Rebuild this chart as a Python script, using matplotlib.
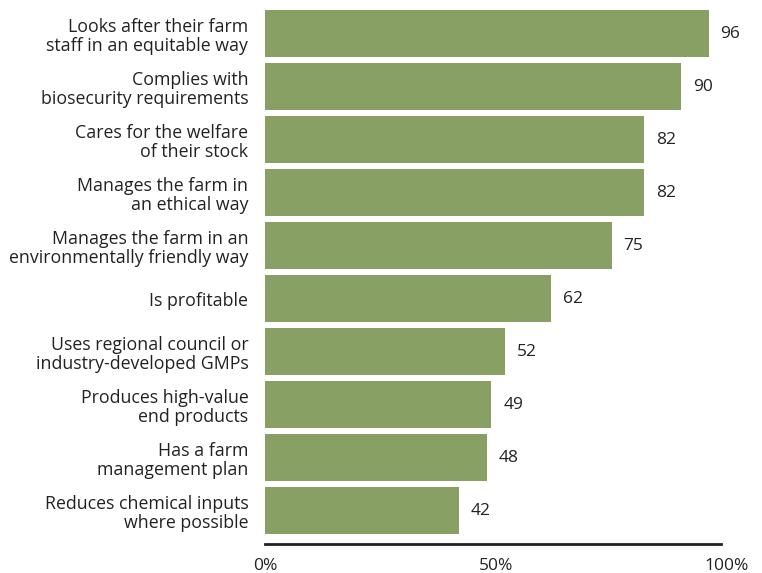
import matplotlib.pyplot as plt

labels = [
    "Looks after their farm\nstaff in an equitable way",
    "Complies with\nbiosecurity requirements",
    "Cares for the welfare\nof their stock",
    "Manages the farm in\nan ethical way",
    "Manages the farm in an\nenvironmentally friendly way",
    "Is profitable",
    "Uses regional council or\nindustry-developed GMPs",
    "Produces high-value\nend products",
    "Has a farm\nmanagement plan",
    "Reduces chemical inputs\nwhere possible",
]
values = [96, 90, 82, 82, 75, 62, 52, 49, 48, 42]
ticks = [0, 50, 100]
tick_labels = ["0%", "50%", "100%"]

plt.rcParams['font.family'] = ['Open Sans', 'DejaVu Sans']

fig = plt.figure(figsize=(7.62, 5.73), dpi=100)
ax = fig.add_axes([265 / 762, 1 - 544 / 573, 462 / 762, 537 / 573])

pos = list(range(len(values)))
ax.barh(pos, values, height=0.89, color="#88a064")
for p, v in zip(pos, values):
    ax.text(v + 2.6, p, str(v), va="center", ha="left", fontsize=12.5, color="#222222")

ax.set_xlim(0, 100)
ax.set_ylim(9.63, -0.5)
ax.set_yticks(pos)
ax.set_yticklabels(labels, fontsize=12.8, color="#222222", linespacing=1.08)
ax.set_xticks(ticks)
ax.set_xticklabels(tick_labels, fontsize=12.5, color="#222222")
ax.tick_params(axis="both", length=0)
ax.tick_params(axis="y", pad=12)
ax.tick_params(axis="x", pad=10)

for s in ["top", "right", "left"]:
    ax.spines[s].set_visible(False)
ax.spines["bottom"].set_linewidth(2)
ax.spines["bottom"].set_color("#222222")
ax.spines["bottom"].set_bounds(0, 98.8)

fig.savefig("out.png", dpi=100)
